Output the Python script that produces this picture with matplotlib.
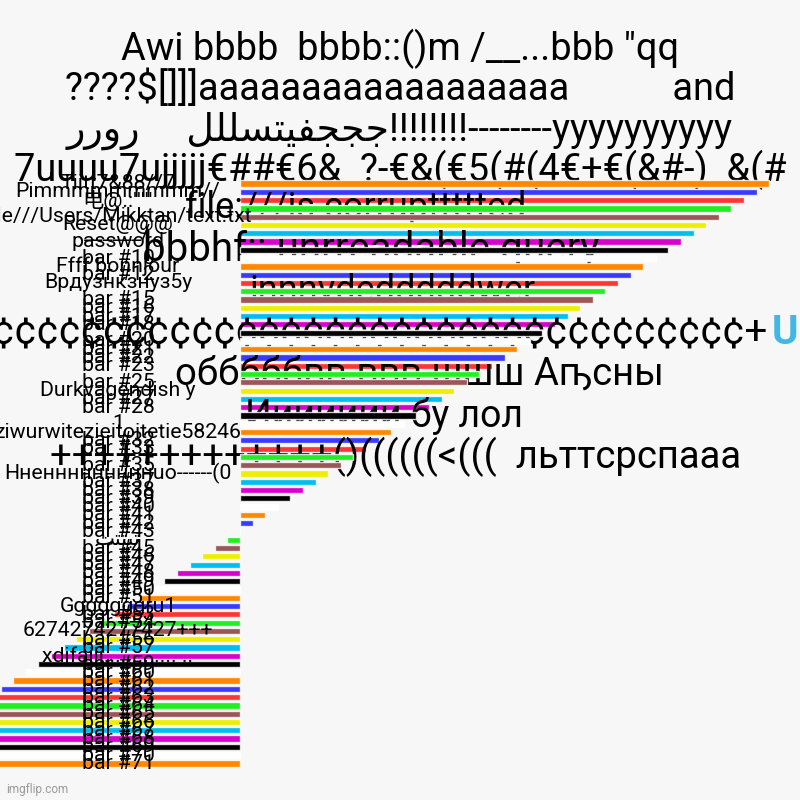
import matplotlib
matplotlib.use("Agg")
import matplotlib.pyplot as plt

# chart data (bar value per row, top to bottom)
values = [42, 41, 40, 39, 38, 37, 36, 35, 34, 33,
          32, 31, 30, 29, 28, 27, 26, 25, 24, 23,
          22, 21, 20, 19, 18, 17, 16, 15, 14, 13,
          12, 11, 10, 9, 8, 7, 6, 5, 4, 3,
          2, 1, 0, -1, -2, -3, -4, -5, -6, -7,
          -8, -9, -10, -11, -12, -13, -14, -15, -16, -17,
          -18, -19, -20, -21, -22, -23, -24, -25, -26, -27,
          -28]

palette = ["#ff8800", "#3a3aff", "#ff3636", "#22ee22", "#9b5656",
           "#eeee00", "#00bdef", "#d800cc", "#000000", "#ffffff"]

# custom row labels (bar number -> text), the rest are "bar #N"
custom_labels = {
    1: "Tiitt7&88//7",
    2: "Pimmmmmmmmm//",
    3: "电@.:'''''",
    5: "file///Users/Mikktan/text.txt",
    6: "Reset@@@",
    7: "______/",
    8: "password",
    11: "Ffff bonnjour",
    13: "Врдузнкзнуз5у",
    26: "Durkvagendish y",
    30: "1",
    31: "ziwurwitezieitoitetie58246",
    36: "Нненннннннннuo------(0",
    44: "\ufe96\ufe98\ufe98\ufe92\ufe9b",
    52: "Gggggggru1",
    55: "6274274277427+++",
    58: "xdjfajjj........ .... ..",
}

# oversized labels that spill into the plot
big_labels = {
    4: "file:///is corrupttttted",
    9: "bbbhf:: unrreadable query",
    14: "innnvdedddddwer",
    19: "¢" * 36 + "+",
    24: "обббббвв ввв шшш Аҧсны",
    29: "Иииииии бу лол",
    34: "+" * 13 + "()((((((<(((  льттсрспааа",
}
big_x = {4: 185, 9: 143, 14: 250, 19: 768, 24: 175, 29: 245, 34: 50}
big_size = {4: 26, 9: 29, 14: 26, 19: 29, 24: 27.5, 29: 27, 34: 27.5}

title_lines = [
    'Awi bbbb  bbbb::()m /__...bbb "qq',
    "????$[]]]aaaaaaaaaaaaaaaaaa           and",
    "\ufead\ufead\ufeed\ufead     "
    "\ufede\ufee0\ufee0\ufeb4\ufe98\ufef4\ufed4\ufea0\ufea0\ufe9f"
    "!!!!!!!!--------yyyyyyyyyy",
    "7uuuu7ujjjjj€##€6&  ?-€&(€5(#(4€+€(&#-)  &(#",
]

fonts = ["Roboto", "Noto Sans CJK SC", "DejaVu Sans"]
bg = "#f7f7f7"

fig = plt.figure(figsize=(8, 8), dpi=100, facecolor=bg)
ax = fig.add_axes([0, 32 / 800, 1, 589 / 800])
ax.patch.set_visible(False)

n = len(values)
rows = list(range(n))
bars = ax.barh(rows, values, height=0.75,
               color=[palette[i % len(palette)] for i in rows],
               edgecolor=(1, 1, 1, 0.8), linewidth=1)
for i, b in enumerate(bars):
    b.set_zorder(2 + 2 * i)

ax.set_xlim(-240 / 12.6, 560 / 12.6)
ax.set_ylim(n - 0.45, -0.55)
ax.axis("off")

tr = ax.get_yaxis_transform()
for i in rows:
    k = i + 1
    if k in big_labels:
        # big label sits above the previous bars but under its own row
        z = 1 + 2 * i
        if k == 19:
            ax.text(big_x[k] / 800, i, big_labels[k], transform=tr, ha="right",
                    va="center", fontsize=big_size[k], family=fonts, zorder=z)
            ax.text(772 / 800, i, "U", transform=tr, ha="left", va="center",
                    fontsize=big_size[k], color="#3fb8e6", fontweight="bold",
                    family=fonts, zorder=z)
        else:
            ax.text(big_x[k] / 800, i, big_labels[k], transform=tr, ha="left",
                    va="center", fontsize=big_size[k], family=fonts, zorder=z)
        continue
    label = custom_labels.get(k, f"bar #{k}")
    ax.text(118 / 800, i, label, transform=tr, ha="center", va="center",
            fontsize=15.3, family=fonts, zorder=500)

# title, drawn under the axes so the bars cover it
baselines = [60, 100.5, 141, 181.5]
for line, yb in zip(title_lines, baselines):
    fig.text(0.5, 1 - yb / 800, line, ha="center", va="baseline",
             fontsize=27.4, family=fonts, zorder=-1)

fig.text(6 / 800, 1 - 793 / 800, "imgflip.com", ha="left", va="baseline",
         fontsize=8.5, color="#9a9a9a", family=fonts)

fig.savefig("out.png", dpi=100, facecolor=bg)
